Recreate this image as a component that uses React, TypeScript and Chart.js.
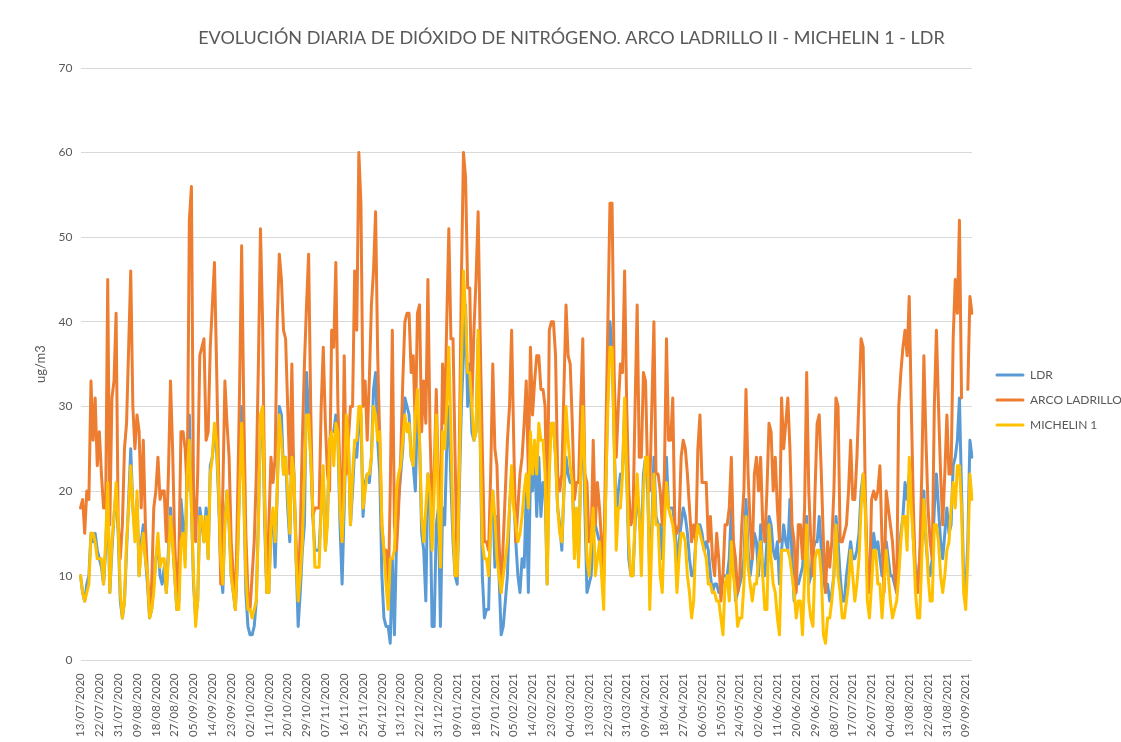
import React, { useEffect, useRef } from 'react';
import { Chart, registerables } from 'chart.js';

Chart.register(...registerables);

const TITLE = 'EVOLUCIÓN DIARIA DE DIÓXIDO DE NITRÓGENO. ARCO LADRILLO II - MICHELIN 1 - LDR';
const Y_TITLE = 'ug/m3';
const START_DATE = '2020-07-13';
const LABEL_STEP = 9;

const SERIES_NAMES = ['LDR', 'ARCO LADRILLO', 'MICHELIN 1'];
const SERIES_COLORS = ['#5B9BD5', '#ED7D31', '#FFC000'];

const LDR: (number | null)[] = [
  10, 8, 7, 9, 10, 15, 14, 15, 13, 12,
  11, 9, 13, 20, 8, 13, 17, 20, 15, 7,
  5, 7, 13, 19, 25, 18, 15, 19, 10, 14,
  16, 12, 9, 5, 6, 9, 12, 14, 10, 9,
  11, 8, 13, 18, 14, 10, 6, 7, 19, 16,
  12, 24, 29, 18, 9, 5, 7, 18, 16, 14,
  18, 12, 23, 24, 27, 25, 19, 11, 8, 17,
  20, 16, 10, 8, 6, 12, 21, 30, 20, 8,
  4, 3, 3, 4, 7, 17, 28, 29, 16, 8,
  8, 16, 17, 11, 20, 30, 29, 22, 24, 18,
  14, 26, 22, 12, 4, 8, 13, 16, 34, 29,
  24, 17, 13, 13, 13, 18, 22, 13, 17, 26,
  27, 27, 29, 26, 16, 9, 18, 28, 26, 16,
  20, 25, 24, 28, 29, 17, 21, 22, 21, 24,
  32, 34, 26, 22, 10, 5, 4, 4, 2, 12,
  3, 14, 19, 22, 25, 31, 30, 29, 24, 23,
  20, 30, 26, 15, 13, 7, 22, 20, 4, 4,
  16, 18, 4, 18, 16, 25, 30, 21, 14, 10,
  9, 20, 30, 36, 42, 30, 35, 27, 26, 27,
  38, 26, 10, 5, 6, 6, 17, 20, 11, 17,
  10, 3, 4, 7, 10, 18, 22, 20, 14, 10,
  8, 12, 11, 20, 8, 22, 20, 25, 17, 24,
  17, 21, 20, 9, 26, 27, 28, 24, 18, 16,
  13, 20, 24, 22, 21, 21, 14, 17, 12, 22,
  29, 18, 8, 9, 10, 15, 16, 15, 14, 11,
  10, 20, 32, 40, 37, 26, 17, 20, 22, 22,
  30, 22, 12, 10, 10, 16, 20, 17, 14, 22,
  24, 20, 10, 16, 24, 17, 16, 16, 12, 18,
  24, 18, 18, 18, 16, 11, 14, 16, 18, 17,
  15, 12, 10, 10, 14, 16, 16, 15, 13, 14,
  13, 10, 8, 9, 9, 8, 8, 10, 10, 10,
  12, 18, 12, 7, 8, 9, 10, 12, 19, 13,
  10, 12, 15, 14, 10, 16, 10, 10, 14, 17,
  16, 13, 12, 14, 9, 13, 16, 14, 13, 19,
  12, 7, 9, 9, 10, 11, 14, 17, 9, 10,
  13, 14, 14, 17, 13, 10, 8, 9, 7, 8,
  10, 17, 14, 10, 7, 7, 10, 12, 14, 12,
  12, 13, 15, 20, 22, 18, 10, 8, 12, 15,
  13, 14, 12, 10, 11, 14, 12, 10, 10, 9,
  8, 12, 15, 17, 21, 19, 22, 20, 14, 10,
  9, 12, 16, 20, 14, 11, 10, 12, 18, 22,
  18, 14, 12, 15, 18, 15, 16, 23, 24, 26,
  31, 20, 10, 8, 14, 26, 24,
];

const ARCO_LADRILLO: (number | null)[] = [
  18, 19, 15, 20, 19, 33, 26, 31, 23, 27,
  22, 18, 18, 45, 16, 31, 33, 41, 16, 12,
  16, 25, 28, 37, 46, 30, 25, 29, 27, 18,
  26, 16, 10, 6, 9, 18, 20, 24, 19, 20,
  20, 14, 22, 33, 25, 14, 8, 12, 27, 27,
  25, 20, 52, 56, 20, 14, 22, 36, 37, 38,
  26, 27, 37, 42, 47, 35, 22, 9, 20, 33,
  28, 24, 14, 10, 6, 18, 32, 49, 30, 15,
  8, 6, 10, 14, 22, 35, 51, 40, 20, 8,
  16, 24, 21, 24, 40, 48, 45, 39, 38, 30,
  22, 35, 20, 14, 8, 15, 26, 35, 42, 48,
  30, 17, 18, 18, 18, 30, 37, 28, 22, 20,
  39, 37, 47, 30, 22, 14, 36, 22, 26, 30,
  30, 46, 39, 60, 54, 30, 33, 26, 33, 42,
  46, 53, 36, 26, 16, 13, 13, 7, 20, 39,
  16, 13, 18, 24, 33, 40, 41, 41, 34, 36,
  27, 41, 42, 27, 33, 28, 45, 27, 18, 22,
  32, 21, 16, 35, 28, 40, 51, 38, 38, 24,
  10, 25, 45, 60, 57, 44, 44, 30, 39, 45,
  53, 38, 25, 14, 14, 13, 22, 35, 25, 23,
  14, 8, 14, 20, 26, 30, 39, 26, 14, 18,
  22, 24, 28, 33, 22, 37, 29, 33, 36, 36,
  32, 32, 30, 14, 39, 40, 40, 36, 22, 20,
  22, 32, 42, 36, 35, 28, 19, 21, 21, 30,
  38, 22, 21, 14, 14, 26, 16, 21, 18, 14,
  10, 26, 40, 54, 54, 34, 24, 30, 35, 34,
  46, 30, 20, 16, 17, 30, 42, 24, 24, 34,
  33, 22, 20, 30, 40, 22, 22, 20, 16, 22,
  38, 26, 26, 31, 16, 15, 16, 24, 26, 25,
  22, 18, 14, 16, 14, 25, 29, 21, 21, 21,
  14, 17, 12, 10, 15, 12, 7, 10, 16, 16,
  18, 24, 14, 12, 8, 10, 16, 20, 32, 22,
  16, 12, 22, 24, 20, 24, 16, 14, 20, 28,
  27, 20, 24, 18, 14, 31, 25, 28, 31, 25,
  16, 14, 8, 16, 16, 12, 18, 34, 20, 14,
  10, 20, 28, 29, 22, 14, 8, 14, 11, 14,
  20, 31, 30, 14, 14, 15, 16, 20, 26, 19,
  19, 24, 31, 38, 37, 20, 10, 8, 19, 20,
  19, 20, 23, 14, 8, 20, 18, 16, 14, 10,
  8, 30, 34, 37, 39, 36, 43, 30, 18, 10,
  8, 12, 22, 36, 26, 18, 14, 12, 30, 39,
  30, 22, 16, 22, 29, 22, 22, 38, 45, 41,
  52, 31, null, null, 32, 43, 41,
];

const MICHELIN_1: (number | null)[] = [
  10, 8, 7, 8, 9, 15, 15, 14, 12, 12,
  12, 9, 14, 21, 8, 14, 17, 21, 16, 8,
  5, 7, 14, 18, 23, 18, 14, 20, 10, 13,
  15, 12, 10, 5, 6, 8, 12, 15, 11, 12,
  12, 8, 12, 17, 14, 10, 6, 6, 14, 15,
  11, 22, 26, 18, 10, 4, 7, 17, 17, 14,
  17, 12, 22, 24, 28, 26, 20, 12, 9, 16,
  20, 16, 10, 8, 6, 12, 20, 28, 20, 10,
  6, 6, 5, 6, 7, 16, 29, 30, 18, 8,
  8, 16, 18, 14, 20, 29, 26, 22, 24, 20,
  15, 24, 22, 12, 7, 10, 14, 22, 29, 29,
  24, 18, 11, 11, 11, 18, 23, 13, 16, 26,
  27, 23, 28, 27, 18, 14, 20, 29, 26, 16,
  22, 26, 26, 30, 30, 18, 20, 22, 22, 24,
  30, 29, 26, 27, 16, 13, 9, 6, 12, 12,
  13, 20, 22, 23, 26, 29, 27, 28, 24, 23,
  29, 32, 26, 17, 14, 18, 22, 20, 13, 20,
  29, 18, 11, 27, 25, 30, 37, 27, 16, 10,
  10, 22, 35, 46, 41, 34, 34, 30, 26, 27,
  39, 26, 14, 12, 12, 10, 16, 20, 17, 12,
  10, 8, 10, 12, 14, 18, 23, 18, 16, 14,
  15, 17, 20, 22, 18, 27, 22, 26, 22, 28,
  26, 26, 22, 9, 22, 28, 28, 24, 18, 15,
  14, 20, 30, 26, 23, 21, 12, 18, 11, 22,
  30, 22, 12, 10, 14, 18, 10, 12, 14, 10,
  6, 20, 30, 37, 37, 26, 13, 18, 18, 22,
  31, 22, 14, 10, 10, 17, 22, 17, 10, 20,
  24, 24, 6, 14, 22, 16, 16, 10, 8, 16,
  21, 18, 17, 16, 14, 8, 12, 15, 15, 14,
  10, 8, 5, 7, 14, 16, 15, 14, 13, 12,
  9, 9, 8, 8, 7, 7, 5, 3, 9, 10,
  7, 14, 10, 8, 4, 5, 5, 9, 17, 11,
  9, 7, 9, 9, 12, 14, 10, 6, 6, 16,
  12, 9, 8, 5, 3, 13, 13, 13, 13, 12,
  10, 8, 5, 7, 7, 3, 10, 16, 7, 5,
  4, 12, 13, 13, 10, 3, 2, 5, 5, 7,
  10, 16, 10, 8, 5, 5, 7, 9, 13, 10,
  7, 9, 12, 18, 22, 18, 7, 5, 9, 13,
  13, 9, 9, 5, 9, 13, 10, 7, 5, 6,
  7, 10, 14, 17, 17, 13, 24, 18, 14, 8,
  5, 5, 12, 19, 15, 10, 7, 7, 16, 16,
  14, 10, 8, 10, 13, 14, 18, 21, 18, 23,
  23, 18, 8, 6, 12, 22, 19,
];

const Y_TICKS = [0, 10, 20, 30, 40, 50, 60, 70];

function buildDateLabels(start: string, count: number): string[] {
  const out: string[] = [];
  const base = new Date(start + 'T00:00:00Z').getTime();
  for (let i = 0; i < count; i++) {
    const d = new Date(base + i * 86400000);
    const dd = String(d.getUTCDate()).padStart(2, '0');
    const mm = String(d.getUTCMonth() + 1).padStart(2, '0');
    out.push(`${dd}/${mm}/${d.getUTCFullYear()}`);
  }
  return out;
}

const FONT = 'Lato, "Open Sans", sans-serif';
const TEXT_COLOR = '#595959';

// Title centred on the whole chart (plot + legend), like the Excel original
const titlePlugin = {
  id: 'wideTitle',
  afterDraw(chart: any) {
    const { ctx } = chart;
    ctx.save();
    ctx.font = `18px ${FONT}`;
    ctx.fillStyle = TEXT_COLOR;
    ctx.textAlign = 'center';
    ctx.textBaseline = 'middle';
    ctx.fillText(TITLE, chart.width / 2 + 11, 38);
    ctx.restore();
  },
};

const legendPlugin = {
  id: 'sideLegend',
  afterDraw(chart: any) {
    const { ctx, chartArea } = chart;
    const x0 = chartArea.right + 25;
    const yStart = 375;
    const gap = 25;
    ctx.save();
    ctx.font = `12px ${FONT}`;
    ctx.textBaseline = 'middle';
    ctx.textAlign = 'left';
    SERIES_NAMES.forEach((name, i) => {
      const y = yStart + i * gap;
      ctx.strokeStyle = SERIES_COLORS[i];
      ctx.lineWidth = 3;
      ctx.lineCap = 'round';
      ctx.beginPath();
      ctx.moveTo(x0, y);
      ctx.lineTo(x0 + 26, y);
      ctx.stroke();
      ctx.fillStyle = TEXT_COLOR;
      ctx.fillText(name, x0 + 33, y);
    });
    ctx.restore();
  },
};

export default function App() {
  const canvasRef = useRef<HTMLCanvasElement | null>(null);

  useEffect(() => {
    const canvas = canvasRef.current;
    if (!canvas) return;
    const labels = buildDateLabels(START_DATE, LDR.length);
    const seriesData = [LDR, ARCO_LADRILLO, MICHELIN_1];
    // Excel draws later series on top: lower "order" is drawn last in Chart.js
    const orders = [3, 2, 1];
    const chart = new Chart(canvas, {
      type: 'line',
      data: {
        labels,
        datasets: seriesData.map((d, i) => ({
          label: SERIES_NAMES[i],
          data: d,
          borderColor: SERIES_COLORS[i],
          backgroundColor: SERIES_COLORS[i],
          borderWidth: 3,
          pointRadius: 0,
          tension: 0,
          spanGaps: false,
          borderJoinStyle: 'round',
          borderCapStyle: 'round',
          order: orders[i],
        })),
      },
      options: {
        responsive: false,
        animation: false,
        layout: { padding: { left: 33, right: 149, top: 68, bottom: 0 } },
        plugins: {
          legend: { display: false },
          tooltip: { enabled: false },
          title: { display: false },
        },
        scales: {
          x: {
            type: 'category',
            offset: false,
            grid: { display: false },
            border: { display: false },
            ticks: {
              autoSkip: false,
              minRotation: 90,
              maxRotation: 90,
              color: TEXT_COLOR,
              font: { family: FONT, size: 11.5 },
              padding: 5,
              callback: function (this: any, value: any, index: number) {
                return index % LABEL_STEP === 0 ? this.getLabelForValue(value) : '';
              },
            },
          },
          y: {
            min: Y_TICKS[0],
            max: Y_TICKS[Y_TICKS.length - 1],
            afterBuildTicks: (scale: any) => {
              scale.ticks = Y_TICKS.map((v) => ({ value: v }));
            },
            grid: { color: '#D9D9D9', lineWidth: 1, drawTicks: false },
            border: { display: false },
            ticks: {
              color: TEXT_COLOR,
              font: { family: FONT, size: 12 },
              padding: 8,
            },
            title: {
              display: true,
              text: Y_TITLE,
              color: TEXT_COLOR,
              font: { family: FONT, size: 13 },
              padding: { top: 0, bottom: 2 },
            },
          },
        },
      },
      plugins: [titlePlugin, legendPlugin],
    });
    return () => chart.destroy();
  }, []);

  return (
    <div style={{ position: 'fixed', left: 0, top: 0, width: 1121, height: 742, background: '#ffffff' }}>
      <canvas ref={canvasRef} width={1121} height={742} style={{ display: 'block' }} />
    </div>
  );
}
